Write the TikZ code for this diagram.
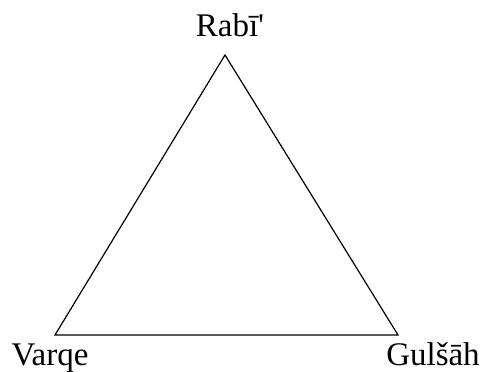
\documentclass[tikz,border=0pt]{standalone}
\usepackage{fontspec}
\setmainfont{Liberation Serif}
\usetikzlibrary{positioning}
\tikzset{
  every picture/.style={line width=1.2pt},
  corner/.style={font=\fontsize{33}{38}\selectfont, anchor=base, inner sep=0pt},
  side/.style={draw=black, line join=miter},
}
\begin{document}
\begin{tikzpicture}[x=1pt, y=-1pt]
  \useasboundingbox (0,0) rectangle (480,372);
  % the three corners
  \coordinate (top) at (225,55);
  \coordinate (left) at (55,335);
  \coordinate (right) at (398,335);
  \draw[side] (top) -- (left) -- (right) -- cycle;
  % names
  \node[corner] (rabi) at (230,37) {Rabī\textquotesingle};
  \node[corner] (varqe) at (50,365) {Varqe};
  \node[corner] (gulshah) at (433,365) {Gulšāh};
\end{tikzpicture}
\end{document}
